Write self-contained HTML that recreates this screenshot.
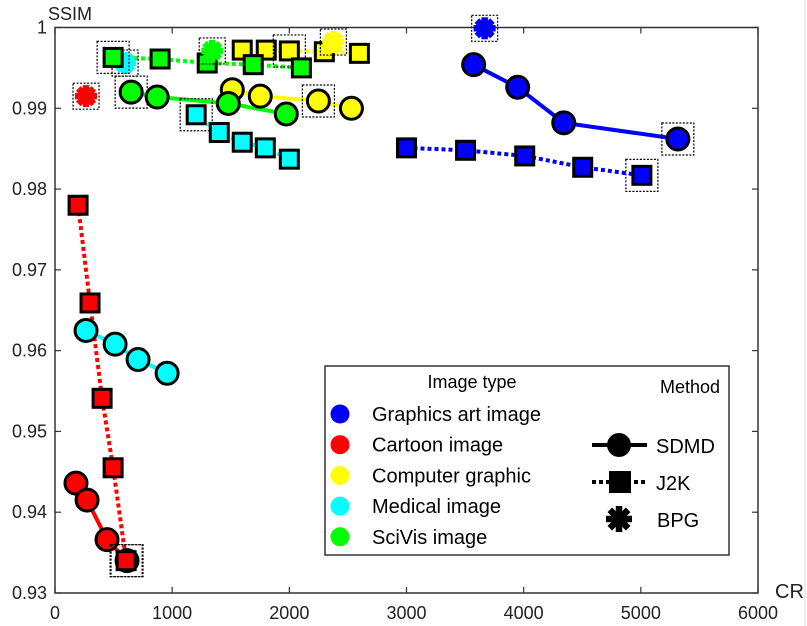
<!DOCTYPE html>
<html><head><meta charset="utf-8"><style>
html,body{margin:0;padding:0;background:#fff;}
svg{display:block;font-family:"Liberation Sans",sans-serif;}
</style></head><body>
<svg id="chart" width="807" height="626"></svg>
<script>
const xTicks=[0,1000,2000,3000,4000,5000,6000];
const yTicks=[0.93,0.94,0.95,0.96,0.97,0.98,0.99,1];
const yTickLabels=["0.93","0.94","0.95","0.96","0.97","0.98","0.99","1"];
const groupNames=["graphics","cartoon","computer","medical","scivis"];
const groupColors=["#0000ff","#ff0000","#ffff00","#00ffff","#00ff00"];
const legendLabels=["Graphics art image","Cartoon image","Computer graphic","Medical image","SciVis image"];
const sdmdX=[[3573,3949,4342,5316],[179,274,444,615],[1513,1752,2248,2530],[265,513,709,957],[650,872,1479,1974]];
const sdmdY=[[0.9954,0.9926,0.9882,0.9862],[0.9436,0.9415,0.9366,0.9340],[0.9923,0.9915,0.9909,0.9900],[0.9625,0.9608,0.9589,0.9572],[0.9920,0.9914,0.9906,0.9893]];
const j2kX=[[3000,3504,4009,4504,5009],[197,299,402,496,607],[1598,1803,2000,2299,2598],[1205,1402,1598,1795,2000],[496,897,1299,1692,2103]];
const j2kY=[[0.9851,0.9848,0.9841,0.9827,0.9817],[0.978,0.9659,0.9541,0.9455,0.934],[0.9972,0.9972,0.9971,0.9970,0.9968],[0.9892,0.9870,0.9858,0.9851,0.9837],[0.9963,0.9961,0.9956,0.9954,0.9950]];
const bpgX=[3667,265,2376,598,1342];
const bpgY=[0.9999,0.9915,0.9982,0.9956,0.9971];
const sdmdHighlight=[3,3,2,-1,0];
const j2kHighlight=[4,4,2,0,0];

const NS="http://www.w3.org/2000/svg";
const svg=document.getElementById('chart');
const L=55,R=758,T=27.5,B=593;
const xs=v=>L+(v-0)/(6000-0)*(R-L);
const ys=v=>B-(v-0.93)/(1-0.93)*(B-T);
function mk(tag,attrs,parent){const e=document.createElementNS(NS,tag);for(const k in attrs)e.setAttribute(k,attrs[k]);(parent||svg).appendChild(e);return e;}
const ax=mk('g',{});


mk('rect',{x:L,y:T,width:R-L,height:B-T,fill:'none',stroke:'#333','stroke-width':1.5},ax);
xTicks.forEach((t,i)=>{
  const x=xs(t);
  mk('line',{x1:x,x2:x,y1:B,y2:B-6,stroke:'#333','stroke-width':1.2},ax);
  mk('line',{x1:x,x2:x,y1:T,y2:T+6,stroke:'#333','stroke-width':1.2},ax);
  const tx=mk('text',{x:x,y:B+26,'text-anchor':'middle','font-size':18,fill:'#222'},ax);
  tx.textContent=t;
  
  
});
yTicks.forEach((t,i)=>{
  const y=ys(t);
  mk('line',{x1:L,x2:L+6,y1:y,y2:y,stroke:'#333','stroke-width':1.2},ax);
  mk('line',{x1:R,x2:R-6,y1:y,y2:y,stroke:'#333','stroke-width':1.2},ax);
  const tx=mk('text',{x:L-8,y:y+6,'text-anchor':'end','font-size':18,fill:'#222'},ax);
  tx.textContent=yTickLabels[i];
  
  
});
const yt=mk('text',{x:48,y:20,'font-size':18,fill:'#222'});yt.textContent='SSIM';


const xt=mk('text',{x:775,y:598,'font-size':20,fill:'#222'});xt.textContent='CR';


mk('line',{x1:805,x2:805,y1:0,y2:626,stroke:'#ddd','stroke-width':1});

function box(x,y,s){mk('rect',{x:x-s,y:y-s,width:2*s,height:2*s,fill:'none',stroke:'#000','stroke-width':1.2,'stroke-dasharray':'2,1.5'});}
function star(x,y,r,c,parent){
  const g=mk('g',{},parent);
  mk('circle',{cx:x,cy:y,r:r*0.6,fill:c},g);
  for(let a=0;a<4;a++){const an=a*Math.PI/4;mk('line',{x1:x-r*Math.cos(an),y1:y-r*Math.sin(an),x2:x+r*Math.cos(an),y2:y+r*Math.sin(an),stroke:c,'stroke-width':6.5},g);}
  return g;
}
groupNames.forEach((g,i)=>{
  const jp=j2kX[i].map((v,k)=>xs(v)+','+ys(j2kY[i][k])).join(' ');
  const jl=mk('polyline',{points:jp,fill:'none',stroke:groupColors[i],'stroke-width':4,'stroke-dasharray':'4,3'});
  
  
  const sp=sdmdX[i].map((v,k)=>xs(v)+','+ys(sdmdY[i][k])).join(' ');
  const sl=mk('polyline',{points:sp,fill:'none',stroke:groupColors[i],'stroke-width':4});
  
  
});
groupNames.forEach((g,i)=>{
  sdmdX[i].forEach((v,k)=>{
    const x=xs(v),y=ys(sdmdY[i][k]);
    if(sdmdHighlight[i]===k) box(x,y,16);
    const c=mk('circle',{cx:x,cy:y,r:11,fill:groupColors[i],stroke:'#000','stroke-width':3});
    
    
  });
  j2kX[i].forEach((v,k)=>{
    const x=xs(v),y=ys(j2kY[i][k]);
    if(j2kHighlight[i]===k) box(x,y,16);
    const r=mk('rect',{x:x-9,y:y-9,width:18,height:18,fill:groupColors[i],stroke:'#000','stroke-width':3});
    
    
  });
  const x=xs(bpgX[i]),y=ys(bpgY[i]);
  box(x,y,13);
  const s=star(x,y,11,groupColors[i]);
  
  
});
const lg=mk('g',{});


mk('rect',{x:325,y:366,width:404,height:189,fill:'#fff',stroke:'#333','stroke-width':1.5},lg);
const lt=mk('text',{x:472,y:388,'text-anchor':'middle','font-size':18,fill:'#000'},lg);lt.textContent='Image type';
const mt=mk('text',{x:720,y:393,'text-anchor':'end','font-size':18,fill:'#000'},lg);mt.textContent='Method';
legendLabels.forEach((t,i)=>{
  const y=414+i*30.7;
  const d=mk('circle',{cx:340,cy:y,r:9.5,fill:groupColors[i]},lg);
  
  
  const tx=mk('text',{x:372,y:y+7,'font-size':20,fill:'#000'},lg);tx.textContent=t;
  
  
});
mk('line',{x1:592,x2:647,y1:445,y2:445,stroke:'#000','stroke-width':4},lg);
mk('circle',{cx:619,cy:445,r:12,fill:'#000'},lg);
const t1=mk('text',{x:656,y:453,'font-size':20,fill:'#000'},lg);t1.textContent='SDMD';
mk('line',{x1:592,x2:647,y1:482,y2:482,stroke:'#000','stroke-width':4,'stroke-dasharray':'4,3'},lg);
mk('rect',{x:609,y:471,width:22,height:22,fill:'#000'},lg);
const t2=mk('text',{x:656,y:490,'font-size':20,fill:'#000'},lg);t2.textContent='J2K';
star(619,519,13,'#000',lg);
const t3=mk('text',{x:657,y:527,'font-size':20,fill:'#000'},lg);t3.textContent='BPG';
</script>
</body></html>
